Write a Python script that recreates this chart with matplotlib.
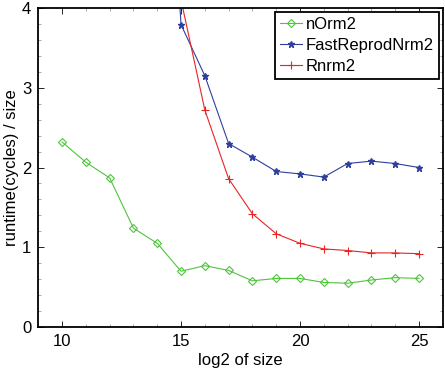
import matplotlib
matplotlib.use('Agg')
from matplotlib import pyplot as plt
from matplotlib.ticker import MultipleLocator

plt.rcParams['font.family'] = ['Liberation Sans', 'DejaVu Sans']

x_norm = list(range(10, 26))
norm2 = [2.32, 2.065, 1.87, 1.24, 1.05, 0.70, 0.77, 0.71, 0.58, 0.61, 0.61, 0.56, 0.55, 0.59, 0.62, 0.61]

x_fast = list(range(14, 26))
fast = [8.5, 3.79, 3.15, 2.30, 2.13, 1.95, 1.92, 1.88, 2.05, 2.08, 2.05, 2.00]

x_rnrm = list(range(15, 26))
rnrm = [4.1, 2.72, 1.86, 1.42, 1.17, 1.05, 0.98, 0.96, 0.93, 0.93, 0.92]

fig = plt.figure(figsize=(4.45, 3.76), dpi=100)
ax = fig.add_axes([0.086, 0.13, 0.909, 0.849])

ax.plot(x_norm, norm2, color='#4fc43c', marker='D', markersize=4.2, markerfacecolor='none',
        markeredgewidth=0.8, linewidth=0.8, label='nOrm2')
ax.plot(x_fast, fast, color='#2f3f9f', marker='*', markersize=5, linewidth=0.8,
        label='FastReprodNrm2')
ax.plot(x_rnrm, rnrm, color='#e82424', marker='+', markersize=6, markeredgewidth=0.8,
        linewidth=0.8, label='Rnrm2')

ax.set_xlim(9, 26)
ax.set_ylim(0, 4)
ax.xaxis.set_major_locator(MultipleLocator(5))
ax.xaxis.set_minor_locator(MultipleLocator(1))
ax.yaxis.set_major_locator(MultipleLocator(1))
ax.yaxis.set_minor_locator(MultipleLocator(0.2))
ax.tick_params(which='both', direction='in', top=True, right=True, labelsize=12, pad=5)
ax.tick_params(which='major', length=4, width=0.6)
ax.tick_params(which='minor', length=2, width=0.5, color='#888888')
for s in ax.spines.values():
    s.set_linewidth(1.3)

ax.set_xlabel('log2 of size', fontsize=12, labelpad=3)
ax.set_ylabel('runtime(cycles) / size', fontsize=12, labelpad=2)

leg = ax.legend(loc='upper right', fontsize=12, fancybox=False, framealpha=1,
                edgecolor='black', borderaxespad=0.25, handlelength=1.3,
                handletextpad=0.2, borderpad=0.3, labelspacing=0.35)
leg.get_frame().set_linewidth(1.3)

fig.savefig('out.png', dpi=100)
